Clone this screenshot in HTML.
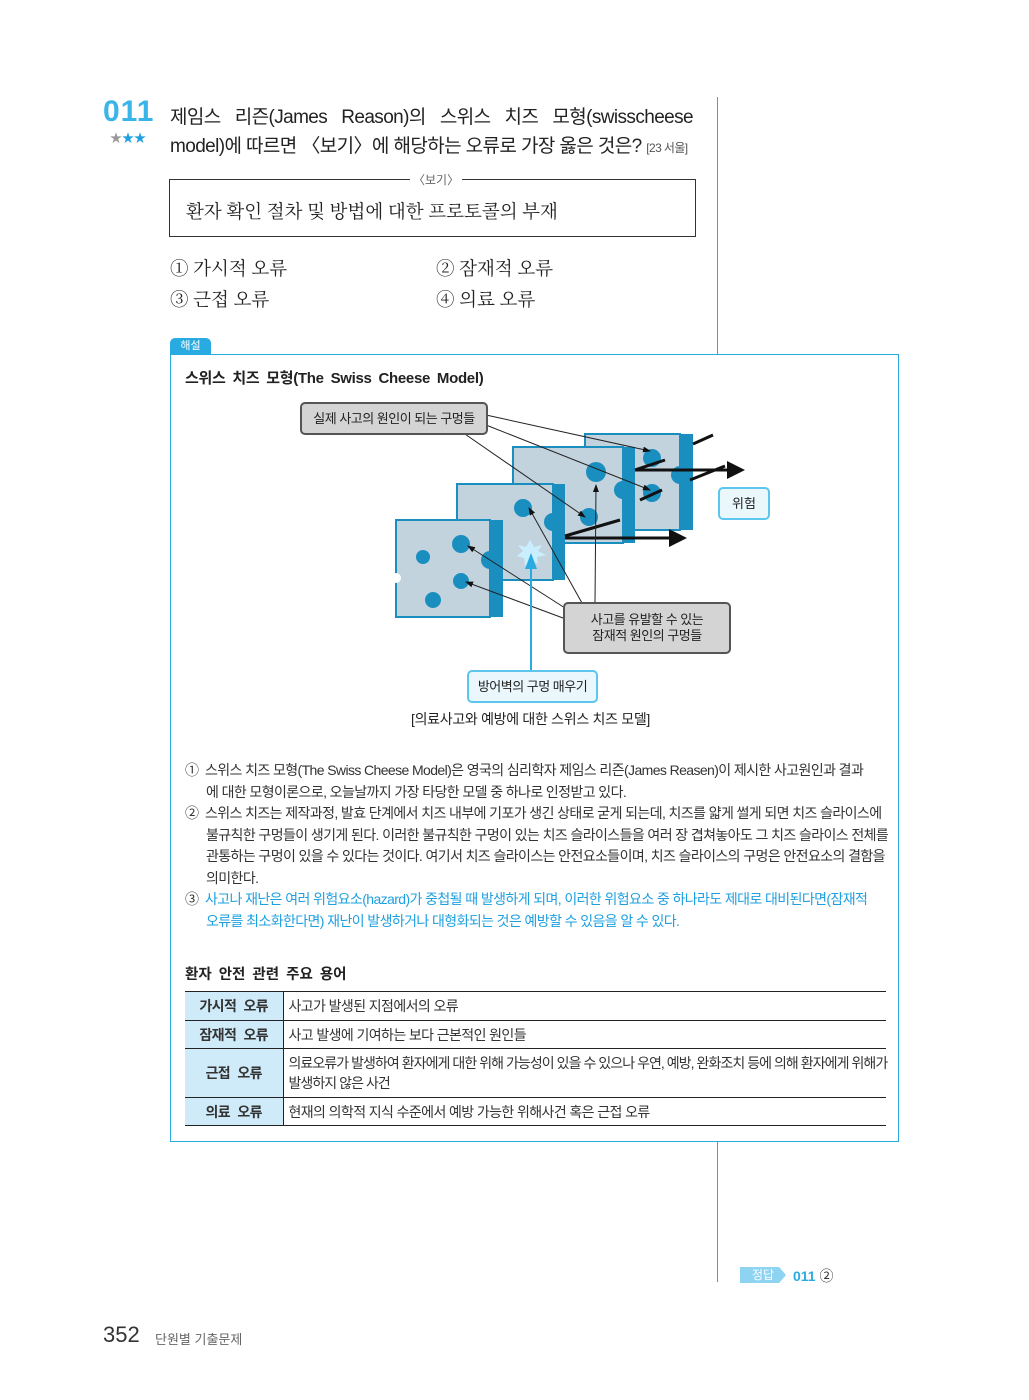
<!DOCTYPE html>
<html><head><meta charset="utf-8"><style>
body{margin:0;width:1029px;height:1400px;background:#fff;position:relative;font-family:"Liberation Sans","Noto Sans CJK KR",sans-serif;color:#222;overflow:hidden}
.a{position:absolute;white-space:nowrap}
.q{font-size:19px;color:#222;letter-spacing:-0.6px}
.sr{font-family:"Liberation Serif","Noto Serif CJK SC",serif;font-size:18.5px}
.t{font-size:14px;letter-spacing:-0.6px;color:#333}
.bl{color:#1ea0e0}
table{border-collapse:collapse;table-layout:fixed}
</style></head><body>
<div class="a" style="left:103px;top:95px;font-size:30px;font-weight:bold;color:#3bb4ea;letter-spacing:1px">011</div>
<div class="a" style="left:110px;top:129px;font-size:12px;color:#999">★<span class="bl">★★</span></div>
<div class="a q" style="left:170px;top:102px;width:523px;text-align:justify;text-align-last:justify;white-space:normal">제임스 리즌(James Reason)의 스위스 치즈 모형(swisscheese</div>
<div class="a q" style="left:170px;top:131px">model)에 따르면 〈보기〉에 해당하는 오류로 가장 옳은 것은? <span style="font-size:12px;color:#555">[23 서울]</span></div>
<div class="a" style="left:717px;top:97px;width:1px;height:257px;background:#29abe2"></div>
<div class="a" style="left:169px;top:179px;width:525px;height:56px;border:1.5px solid #333"></div>
<div class="a" style="left:410px;top:171px;background:#fff;padding:0 3px;font-size:12px;color:#666">〈보기〉</div>
<div class="a sr" style="left:186px;top:198px">환자 확인 절차 및 방법에 대한 프로토콜의 부재</div>
<div class="a sr" style="left:170px;top:255px">① 가시적 오류</div>
<div class="a sr" style="left:436px;top:255px">② 잠재적 오류</div>
<div class="a sr" style="left:170px;top:286px">③ 근접 오류</div>
<div class="a sr" style="left:436px;top:286px">④ 의료 오류</div>
<div class="a" style="left:170px;top:338px;width:41px;height:16px;background:#29abe2;border-radius:5px 5px 0 0;color:#fff;font-size:11px;text-align:center;line-height:16px">해설</div>
<div class="a" style="left:170px;top:354px;width:727px;height:786px;border:1px solid #29abe2"></div>
<div class="a" style="left:185px;top:367px;font-size:15px;font-weight:bold;word-spacing:3px;letter-spacing:-0.3px">스위스 치즈 모형(The Swiss Cheese Model)</div>
<svg class="a" style="left:0;top:0" width="1029" height="1400">
<defs><marker id="m" markerWidth="8" markerHeight="8" refX="7" refY="4" orient="auto"><path d="M0,1 L8,4 L0,7z" fill="#111"/></marker>
<marker id="mb" markerWidth="8" markerHeight="8" refX="7" refY="4" orient="auto"><path d="M0,1 L8,4 L0,7z" fill="#29abe2"/></marker>
<marker id="M" markerWidth="6" markerHeight="6" refX="5" refY="3" orient="auto"><path d="M0,0 L6,3 L0,6z" fill="#111"/></marker></defs>
<g stroke="none">
<rect x="680" y="434" width="13" height="96" fill="#1a8fbf"/><rect x="585" y="434" width="95" height="96" fill="#c3d3de" stroke="#1a8fbf" stroke-width="2"/>
<circle cx="652" cy="458" r="9" fill="#1a8fbf"/><circle cx="652" cy="493" r="9" fill="#1a8fbf"/><circle cx="680" cy="475" r="9" fill="#1a8fbf"/>
<rect x="623" y="447" width="12" height="96" fill="#1a8fbf"/><rect x="513" y="447" width="110" height="96" fill="#c3d3de" stroke="#1a8fbf" stroke-width="2"/>
<circle cx="596" cy="472" r="10" fill="#1a8fbf"/><circle cx="589" cy="517" r="9" fill="#1a8fbf"/><circle cx="623" cy="490" r="9" fill="#1a8fbf"/>
<rect x="553" y="484" width="12" height="96" fill="#1a8fbf"/><rect x="457" y="484" width="96" height="96" fill="#c3d3de" stroke="#1a8fbf" stroke-width="2"/>
<circle cx="523" cy="508" r="9" fill="#1a8fbf"/><circle cx="553" cy="522" r="9" fill="#1a8fbf"/>
<polygon points="530,540 534,547 542,545 538,551 546,555 537,557 538,564 531,560 525,566 524,558 517,556 523,551 518,545 526,547" fill="#c9efff"/>
<rect x="490" y="520" width="13" height="97" fill="#1a8fbf"/><rect x="396" y="520" width="94" height="97" fill="#c3d3de" stroke="#1a8fbf" stroke-width="2"/>
<circle cx="461" cy="544" r="9" fill="#1a8fbf"/><circle cx="461" cy="581" r="8" fill="#1a8fbf"/><circle cx="423" cy="557" r="7" fill="#1a8fbf"/><circle cx="433" cy="600" r="8" fill="#1a8fbf"/><circle cx="490" cy="560" r="9" fill="#1a8fbf"/>
<circle cx="396" cy="578" r="5" fill="#fff"/>
</g>
<g stroke="#111" stroke-width="3">
<line x1="565" y1="536" x2="620" y2="520"/><line x1="565" y1="538" x2="684" y2="538" marker-end="url(#M)"/>
<line x1="635" y1="470" x2="665" y2="460"/><line x1="635" y1="470" x2="742" y2="470" marker-end="url(#M)"/><line x1="693" y1="444" x2="713" y2="435"/><line x1="690" y1="480" x2="725" y2="466"/><line x1="640" y1="500" x2="662" y2="490"/>
</g>
<g stroke="#222" stroke-width="1" fill="none">
<line x1="486" y1="415" x2="650" y2="451" marker-end="url(#m)"/><line x1="486" y1="425" x2="650" y2="490" marker-end="url(#m)"/><line x1="462" y1="432" x2="585" y2="517" marker-end="url(#m)"/>
<line x1="595" y1="603" x2="596" y2="485" marker-end="url(#m)"/><line x1="582" y1="603" x2="529" y2="508" marker-end="url(#m)"/><line x1="565" y1="608" x2="468" y2="546" marker-end="url(#m)"/><line x1="563" y1="618" x2="466" y2="582" marker-end="url(#m)"/>
</g>
<line x1="531" y1="670" x2="531" y2="555" stroke="#29abe2" stroke-width="2" marker-end="url(#mb)"/>
</svg>
<div class="a" style="left:300px;top:402px;width:184px;height:29px;background:#d4d4d4;border:2px solid #555;border-radius:5px;font-size:13px;text-align:center;line-height:29px;letter-spacing:-0.5px">실제 사고의 원인이 되는 구멍들</div>
<div class="a" style="left:563px;top:602px;width:164px;height:48px;background:#d4d4d4;border:2px solid #555;border-radius:5px;font-size:13px;text-align:center;line-height:16px;letter-spacing:-0.5px;white-space:normal;display:flex;align-items:center;justify-content:center">사고를 유발할 수 있는<br>잠재적 원인의 구멍들</div>
<div class="a" style="left:718px;top:487px;width:48px;height:29px;background:#eaf7fd;border:2px solid #5cc6ef;border-radius:5px;font-size:13px;text-align:center;line-height:29px">위험</div>
<div class="a" style="left:467px;top:670px;width:127px;height:29px;background:#eaf7fd;border:2px solid #5cc6ef;border-radius:5px;font-size:13px;text-align:center;line-height:29px;letter-spacing:-0.5px">방어벽의 구멍 매우기</div>
<div class="a" style="left:411px;top:709px;font-size:14px;letter-spacing:-0.3px">[의료사고와 예방에 대한 스위스 치즈 모델]</div>
<div class="a t" style="left:185px;top:760px;line-height:21.5px">
①&nbsp; 스위스 치즈 모형(The Swiss Cheese Model)은 영국의 심리학자 제임스 리즌(James Reasen)이 제시한 사고원인과 결과<br>
<span style="padding-left:21px">에 대한 모형이론으로, 오늘날까지 가장 타당한 모델 중 하나로 인정받고 있다.</span><br>
②&nbsp; 스위스 치즈는 제작과정, 발효 단계에서 치즈 내부에 기포가 생긴 상태로 굳게 되는데, 치즈를 얇게 썰게 되면 치즈 슬라이스에<br>
<span style="padding-left:21px">불규칙한 구멍들이 생기게 된다. 이러한 불규칙한 구멍이 있는 치즈 슬라이스들을 여러 장 겹쳐놓아도 그 치즈 슬라이스 전체를</span><br>
<span style="padding-left:21px">관통하는 구멍이 있을 수 있다는 것이다. 여기서 치즈 슬라이스는 안전요소들이며, 치즈 슬라이스의 구멍은 안전요소의 결함을</span><br>
<span style="padding-left:21px">의미한다.</span><br>
③&nbsp; <span class="bl">사고나 재난은 여러 위험요소(hazard)가 중첩될 때 발생하게 되며, 이러한 위험요소 중 하나라도 제대로 대비된다면(잠재적</span><br>
<span style="padding-left:21px" class="bl">오류를 최소화한다면) 재난이 발생하거나 대형화되는 것은 예방할 수 있음을 알 수 있다.</span></div>
<div class="a" style="left:185px;top:963px;font-size:14.5px;font-weight:bold;word-spacing:3px">환자 안전 관련 주요 용어</div>
<table class="a t" style="left:185px;top:991px;width:701px;border-top:1.5px solid #222;border-bottom:1.5px solid #222">
<colgroup><col style="width:98px"><col></colgroup>
<tr style="height:29px;border-bottom:1px solid #222"><td style="background:#cfeaf8;text-align:center;font-weight:bold;border-right:1px solid #222;word-spacing:4px">가시적 오류</td><td style="padding-left:5px">사고가 발생된 지점에서의 오류</td></tr>
<tr style="height:28px;border-bottom:1px solid #222"><td style="background:#cfeaf8;text-align:center;font-weight:bold;border-right:1px solid #222;word-spacing:4px">잠재적 오류</td><td style="padding-left:5px">사고 발생에 기여하는 보다 근본적인 원인들</td></tr>
<tr style="height:49px;border-bottom:1px solid #222"><td style="background:#cfeaf8;text-align:center;font-weight:bold;border-right:1px solid #222;word-spacing:4px">근접 오류</td><td style="padding-left:5px;line-height:20px;white-space:nowrap;letter-spacing:-0.95px">의료오류가 발생하여 환자에게 대한 위해 가능성이 있을 수 있으나 우연, 예방, 완화조치 등에 의해 환자에게 위해가<br>발생하지 않은 사건</td></tr>
<tr style="height:28px"><td style="background:#cfeaf8;text-align:center;font-weight:bold;border-right:1px solid #222;word-spacing:4px">의료 오류</td><td style="padding-left:5px">현재의 의학적 지식 수준에서 예방 가능한 위해사건 혹은 근접 오류</td></tr>
</table>
<div class="a" style="left:717px;top:1141px;width:1px;height:141px;background:#29abe2"></div>
<div class="a" style="left:740px;top:1267px;width:46px;height:16px;background:#8fd3f2;font-size:12px;color:#fff;text-align:center;line-height:16px;clip-path:polygon(0 0,85% 0,100% 50%,85% 100%,0 100%)">정답</div>
<div class="a" style="left:793px;top:1266px;font-size:14px;font-weight:bold;color:#29abe2">011 <span style="color:#333;font-weight:normal">②</span></div>
<div class="a" style="left:103px;top:1322px;font-size:22px;color:#333">352</div>
<div class="a" style="left:155px;top:1329px;font-size:13px;color:#666">단원별 기출문제</div>
</body></html>
